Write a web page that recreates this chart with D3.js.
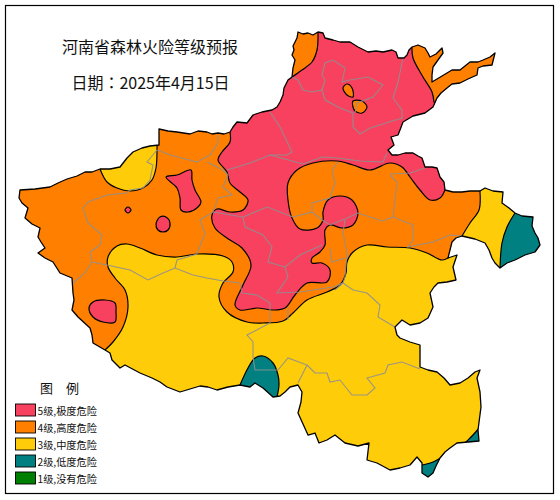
<!DOCTYPE html>
<html>
<head>
<meta charset="utf-8">
<script src="https://cdn.jsdelivr.net/npm/d3@7"></script>
<style>
	html, body { margin: 0; padding: 0; background: #fff; }
	svg { display: block; }
	text { font-family: "Noto Sans CJK TC", "Noto Sans CJK SC", "Noto Sans", sans-serif; fill: #111; }
</style>
</head>
<body>
<div id="chart"></div>
<script>
// map geometry, in map units (1 unit = 1 px of the source map)
var provinceOutline = [[159,129],[168,131],[177,132],[190,134],[198,131],[207,132],[212,134],[218,133],[224,134],[230,132],[233,127],[237,122],[247,123],[253,115],[262,112],[272,110],[277,107],[280,102],[283,95],[284,88],[288,80],[292,77],[293,68],[295,60],[292,55],[294,50],[293,46],[297,38],[298,32],[303,34],[308,33],[313,35],[318,32],[323,33],[325,38],[333,40],[340,42],[350,42],[358,47],[368,52],[376,51],[383,52],[392,50],[396,52],[398,58],[404,58],[407,55],[409,50],[412,47],[418,45],[425,48],[428,53],[430,57],[436,54],[442,48],[443,53],[438,60],[433,67],[432,75],[432,82],[442,76],[452,70],[460,70],[470,62],[478,62],[483,60],[490,57],[495,53],[492,65],[483,66],[478,68],[477,75],[468,79],[460,83],[452,84],[447,88],[441,93],[437,98],[433,107],[425,113],[413,116],[408,119],[403,122],[400,130],[398,135],[391,137],[394,145],[388,150],[392,155],[398,155],[405,153],[413,153],[418,156],[422,158],[425,167],[432,167],[437,168],[440,177],[444,182],[445,190],[453,192],[462,192],[470,191],[480,191],[485,188],[493,191],[503,192],[502,203],[509,208],[515,213],[522,216],[533,217],[532,226],[535,233],[538,238],[540,245],[535,252],[525,255],[515,260],[507,263],[500,268],[495,263],[492,258],[489,250],[485,243],[475,239],[462,236],[456,238],[452,242],[450,250],[448,258],[457,255],[453,267],[456,280],[447,282],[438,283],[434,287],[430,293],[433,307],[428,318],[420,323],[410,325],[402,320],[395,327],[397,335],[400,338],[410,342],[420,345],[420,356],[420,367],[428,370],[437,372],[444,378],[450,385],[460,383],[468,378],[475,372],[480,370],[477,378],[480,392],[481,407],[478,430],[479,441],[468,442],[457,443],[450,448],[445,452],[440,458],[436,466],[433,473],[428,477],[422,473],[422,463],[417,457],[410,465],[400,468],[390,470],[377,463],[367,460],[369,443],[358,446],[345,443],[335,435],[327,440],[319,443],[315,433],[308,435],[303,424],[298,413],[301,402],[302,392],[298,385],[290,387],[285,392],[280,396],[273,397],[263,388],[255,383],[250,387],[240,385],[228,387],[217,390],[208,387],[200,386],[190,389],[180,392],[167,387],[160,382],[152,378],[140,373],[125,365],[120,368],[112,360],[110,353],[105,350],[93,343],[92,335],[90,328],[78,317],[72,310],[74,300],[73,293],[72,278],[60,273],[53,262],[45,258],[38,253],[45,248],[41,242],[38,237],[40,228],[32,224],[25,218],[28,208],[22,203],[19,198],[20,190],[35,189],[50,187],[58,183],[67,179],[77,176],[85,172],[92,172],[100,169],[110,169],[120,167],[127,158],[133,152],[142,148],[150,146],[159,145]];

var orangeEdge = [[105,350],[113,342],[123,327],[128,307],[125,290],[115,278],[108,267],[108,257],[117,246],[127,244],[140,248],[157,255],[177,257],[197,254],[223,256],[232,262],[233,272],[223,283],[219,297],[227,312],[247,322],[263,323],[283,321],[293,313],[307,300],[327,292],[340,285],[346,273],[347,262],[353,252],[367,245],[387,247],[410,248],[427,253],[442,260],[448,258]];
var orangeEdgeEast = [[462,236],[470,223],[479,210],[480,192]];
var orangeOutsideA = [[455,250],[460,245]];
var orangeOutsideB = [[480,175],[520,30],[280,15],[10,100],[10,360],[95,360]];

var yellowNwEdge = [[100,169],[107,182],[117,188],[130,191],[143,188],[152,180],[156,168],[157,152],[157,145]];
var yellowNwOutside = [[150,120],[90,150]];

var redEdgeSouth = [[230,132],[230,142],[222,152],[218,160],[227,172],[230,183],[240,192],[248,200],[243,210],[230,212],[217,209],[212,215],[215,228],[230,240],[242,248],[251,265],[243,285],[235,305],[240,310],[257,308],[273,310],[285,308],[295,295],[307,283],[327,282],[330,270],[322,263],[312,263],[312,258],[320,252],[325,245],[325,230],[330,225],[342,228],[353,225],[358,213],[352,200],[340,196],[328,200],[323,212],[323,220],[317,228],[300,229],[292,218],[288,200],[288,183],[297,170],[313,163],[337,161],[353,165],[370,170],[390,163],[402,167],[410,177],[420,190],[430,200],[440,198],[445,190]];
var redOutsideEast = [[465,150],[445,105]];
var redEdgeNorthEast = [[434,102],[432,92],[423,77],[413,58],[412,47]];
var redOutsideTop = [[410,25],[320,25]];
var redEdgeNorthWest = [[318,32],[317,50],[312,62],[302,70],[292,77]];
var redOutsideWest = [[275,80],[262,100],[235,110]];

var redBlobs = [
	[[166,177],[177,175],[191,170],[192,180],[195,190],[201,202],[198,207],[188,212],[181,210],[180,198],[177,188]],
	[[128,207],[131,210],[128,213],[125,210]],
	[[160,217],[166,217],[170,223],[168,230],[163,232],[158,230],[156,224]],
	[[89,308],[93,302],[105,300],[115,303],[116,312],[115,322],[103,322],[93,317]]
];
var orangeBlobs = [
	[[343,88],[347,84],[352,88],[353,97],[347,95]],
	[[353,101],[362,101],[367,107],[362,113],[355,111],[353,107]]
];

var tealEdges = [
	[[515,213],[507,227],[502,243],[500,268]],
	[[240,385],[248,368],[255,358],[263,356],[273,363],[278,375],[279,385],[277,397]],
	[[442,457],[433,462],[422,465]],
	[[480,427],[473,435],[466,442]]
];
var tealOutside = [
	[[525,285],[560,250],[540,200]],
	[[265,410],[232,400]],
	[[410,485],[445,490],[455,470]],
	[[482,455],[498,430]]
];

var cityBorders = [
	[[292,77],[298,80],[303,90],[312,92],[322,90],[325,100],[340,108],[353,113],[353,127],[360,134],[370,128],[380,125],[392,121],[403,118]],
	[[322,90],[325,80],[322,75],[325,63],[333,60],[345,68],[342,82],[350,80],[368,77],[383,85],[373,97],[357,103],[355,113]],
	[[403,58],[398,82],[393,98],[402,110],[402,118]],
	[[270,112],[280,127],[292,152],[287,155],[270,155]],
	[[227,170],[250,163],[270,155],[303,164],[322,157],[337,158],[360,161],[383,162],[387,153]],
	[[338,162],[332,170],[335,183],[330,198],[312,203],[312,212],[293,217],[267,207],[243,217],[213,212]],
	[[390,174],[410,173],[425,168]],
	[[390,175],[397,182],[395,200],[393,217]],
	[[312,212],[322,220],[330,225],[345,219],[358,213],[382,221],[393,217],[413,225],[413,240],[408,247],[433,242],[450,235],[462,236]],
	[[345,220],[343,233],[347,253],[345,277],[343,283],[335,290]],
	[[243,217],[245,227],[263,235],[272,247],[268,262],[285,267],[300,255],[322,245]],
	[[285,267],[288,277],[277,293],[300,292],[320,289],[333,287],[343,283]],
	[[330,248],[332,262],[345,258]],
	[[343,283],[353,290],[367,293],[380,305],[378,317],[395,327]],
	[[240,283],[242,293],[257,295],[270,303],[270,323],[247,335],[253,342],[253,357],[255,370],[268,370],[278,370],[288,358],[307,365],[298,383]],
	[[288,307],[288,320]],
	[[307,365],[315,373],[327,373],[330,382],[340,380],[352,395],[367,395],[375,388],[367,378],[385,373],[388,365],[402,362],[420,369]],
	[[157,150],[170,155],[197,162],[210,155],[218,143],[218,135]],
	[[157,150],[147,162],[153,165],[150,180],[143,188],[130,190],[127,193],[107,195],[88,202],[83,208],[88,223],[102,235],[100,245],[90,252],[92,262],[85,273],[73,283]],
	[[92,262],[107,265],[130,270],[148,280],[163,273],[175,268],[193,275],[207,278],[223,281],[240,283]],
	[[175,268],[177,260],[197,254],[205,233],[200,220],[213,212],[218,198],[232,195],[223,187],[228,175],[223,170],[207,162]]
];

var legendLabels = ["5级,极度危险", "4级,高度危险", "3级,中度危险", "2级,低度危险", "1级,没有危险"];
var legendColors = ["#f8405f", "#ff8000", "#ffcc0a", "#008080", "#008000"];
var titleLines = ["河南省森林火险等级预报", "日期：2025年4月15日"];

var width = 560, height = 500;
var x = d3.scaleLinear().domain([0, 560]).range([0, width]);
var y = d3.scaleLinear().domain([0, 500]).range([0, height]);

var straight = d3.line().x(function(d) { return x(d[0]); }).y(function(d) { return y(d[1]); });
var smooth = d3.line().x(function(d) { return x(d[0]); }).y(function(d) { return y(d[1]); }).curve(d3.curveCatmullRom.alpha(0.5));
var blob = d3.line().x(function(d) { return x(d[0]); }).y(function(d) { return y(d[1]); }).curve(d3.curveCatmullRomClosed.alpha(0.5));

// alternating smooth edges and straight runs that stay outside the province
var ring = function(parts) {
	var s = "";
	parts.forEach(function(p, i) {
		var seg = (i % 2 == 0 ? smooth(p) : straight(p));
		s += (i == 0 ? seg : "L" + seg.slice(1));
	});
	return s + "Z";
};

var svg = d3.select("#chart").append("svg").attr("width", width).attr("height", height);

svg.append("rect").attr("x", 5.5).attr("y", 5.5).attr("width", 548).attr("height", 488)
	.attr("fill", "#fff").attr("stroke", "#000").attr("stroke-width", 1.2);

svg.append("clipPath").attr("id", "henan").append("path").attr("d", straight(provinceOutline) + "Z");

var map = svg.append("g").attr("clip-path", "url(#henan)");

map.append("path").attr("d", straight(provinceOutline) + "Z").attr("fill", legendColors[2]);

var zone = function(d, color) {
	map.append("path").attr("d", d).attr("fill", color).attr("stroke", "#000").attr("stroke-width", 1.2);
};

zone(ring([orangeEdge, orangeOutsideA, orangeEdgeEast, orangeOutsideB]), legendColors[1]);
zone(ring([yellowNwEdge, yellowNwOutside]), legendColors[2]);
zone(ring([redEdgeSouth, redOutsideEast, redEdgeNorthEast, redOutsideTop, redEdgeNorthWest, redOutsideWest]), legendColors[0]);
redBlobs.forEach(function(b) { zone(blob(b), legendColors[0]); });
orangeBlobs.forEach(function(b) { zone(blob(b), legendColors[1]); });
tealEdges.forEach(function(e, i) { zone(ring([e, tealOutside[i]]), legendColors[3]); });

map.selectAll("path.city").data(cityBorders).enter().append("path").attr("class", "city")
	.attr("d", straight).attr("fill", "none").attr("stroke", "#8f8f8f").attr("stroke-width", 1.1).attr("stroke-opacity", 0.9);

svg.append("path").attr("d", straight(provinceOutline) + "Z").attr("fill", "none")
	.attr("stroke", "#000").attr("stroke-width", 1.3).attr("stroke-linejoin", "round");

svg.append("text").attr("x", 150).attr("y", 53).attr("text-anchor", "middle").attr("font-size", 16).text(titleLines[0]);
svg.append("text").attr("x", 150.5).attr("y", 89).attr("text-anchor", "middle").attr("font-size", 16).text(titleLines[1]);

svg.append("text").attr("x", 40).attr("y", 393).attr("font-size", 13).text("图");
svg.append("text").attr("x", 66).attr("y", 393).attr("font-size", 13).text("例");

var legendY = d3.scalePoint().domain(legendLabels).range([404, 472]);
var legend = svg.selectAll("g.legend").data(legendLabels).enter().append("g").attr("class", "legend")
	.attr("transform", function(d) { return "translate(15.5," + legendY(d) + ")"; });
legend.append("rect").attr("width", 20).attr("height", 12).attr("stroke", "#000").attr("stroke-width", 0.9)
	.attr("fill", function(d, i) { return legendColors[i]; });
legend.append("text").attr("x", 22).attr("y", 10.5).attr("font-size", 10.2).text(function(d) { return d; });
</script>
</body>
</html>
